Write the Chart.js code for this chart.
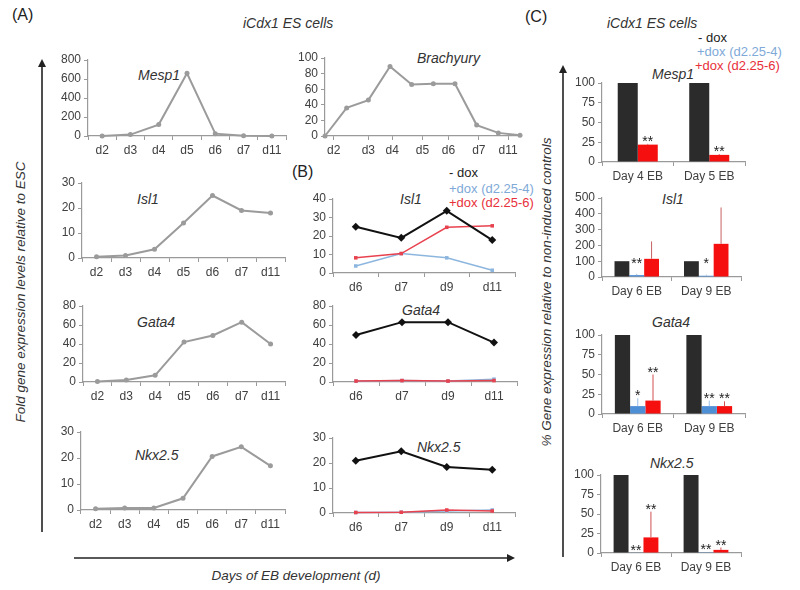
<!DOCTYPE html>
<html lang="en">
<head>
  <meta charset="UTF-8">
  <title>iCdx1 ES cells</title>
  <script src="https://cdn.jsdelivr.net/npm/chart.js"></script>
  <style>
    body { margin: 0; background: #fff; font-family: "Liberation Sans", Arial, sans-serif; }
    #fig { position: relative; width: 800px; height: 590px; overflow: hidden; }
    canvas { position: absolute; }
    .lab { position: absolute; white-space: nowrap; line-height: 1; color: #333; }
    .gene { font-style: italic; font-size: 14px; }
    .panel { font-size: 16px; color: #222; }
    .leg { font-size: 13px; }
    .rot { position: absolute; white-space: nowrap; font-style: italic; font-size: 13.5px; color: #333;
           transform: translate(-50%, -50%) rotate(-90deg); }
  </style>
</head>
<body>
<div id="fig">
  <svg width="800" height="590" style="position:absolute;left:0;top:0">
    <defs>
      <marker id="ah" markerWidth="8" markerHeight="8" refX="5" refY="4" orient="auto" markerUnits="userSpaceOnUse">
        <path d="M0,0 L8,4 L0,8 z" fill="#222"/>
      </marker>
    </defs>
    <line x1="42" y1="532" x2="42" y2="62" stroke="#222" stroke-width="1.6" marker-end="url(#ah)"/>
    <line x1="74" y1="558" x2="512" y2="558" stroke="#222" stroke-width="1.6" marker-end="url(#ah)"/>
    <line x1="563" y1="557" x2="563" y2="68" stroke="#222" stroke-width="1.6" marker-end="url(#ah)"/>
  </svg>

  <div class="lab panel" style="left:12px;top:7px">(A)</div>
  <div class="lab gene" style="left:243px;top:16px">iCdx1 ES cells</div>
  <div class="lab panel" style="left:525px;top:9px">(C)</div>
  <div class="lab panel" style="left:292px;top:164px">(B)</div>
  <div class="lab gene" style="left:607px;top:16px">iCdx1 ES cells</div>

  <div class="lab leg" style="left:449px;top:166px;color:#222">- dox</div>
  <div class="lab leg" style="left:449px;top:182px;color:#7ea9d8">+dox (d2.25-4)</div>
  <div class="lab leg" style="left:449px;top:196px;color:#e8303a">+dox (d2.25-6)</div>
  <div class="lab leg" style="left:698px;top:31px;color:#222">- dox</div>
  <div class="lab leg" style="left:697px;top:45px;color:#7ea9d8">+dox (d2.25-4)</div>
  <div class="lab leg" style="left:695px;top:59px;color:#e8303a">+dox (d2.25-6)</div>

  <div class="lab gene" style="left:138px;top:68px">Mesp1</div>
  <div class="lab gene" style="left:417px;top:51px">Brachyury</div>
  <div class="lab gene" style="left:137px;top:192px">Isl1</div>
  <div class="lab gene" style="left:137px;top:315px">Gata4</div>
  <div class="lab gene" style="left:135px;top:448px">Nkx2.5</div>
  <div class="lab gene" style="left:400px;top:192px">Isl1</div>
  <div class="lab gene" style="left:402px;top:303px">Gata4</div>
  <div class="lab gene" style="left:417px;top:440px">Nkx2.5</div>
  <div class="lab gene" style="left:652px;top:67px">Mesp1</div>
  <div class="lab gene" style="left:662px;top:192px">Isl1</div>
  <div class="lab gene" style="left:652px;top:315px">Gata4</div>
  <div class="lab gene" style="left:650px;top:456px">Nkx2.5</div>

  <div class="rot" style="left:20px;top:292px">Fold gene expression levels relative to ESC</div>
  <div class="rot" style="left:546px;top:292px">% Gene expression relative to non-induced controls</div>
  <div class="lab" style="left:296px;top:569px;transform:translateX(-50%);font-style:italic;font-size:13.5px">Days of EB development (d)</div>

  <canvas id="aMesp1"></canvas>
  <canvas id="aBrachy"></canvas>
  <canvas id="aIsl1"></canvas>
  <canvas id="aGata4"></canvas>
  <canvas id="aNkx"></canvas>
  <canvas id="bIsl1"></canvas>
  <canvas id="bGata4"></canvas>
  <canvas id="bNkx"></canvas>
  <canvas id="cMesp1"></canvas>
  <canvas id="cIsl1"></canvas>
  <canvas id="cGata4"></canvas>
  <canvas id="cNkx"></canvas>
</div>

<script>
  // (A) time course, fold change vs ESC
  const daysA = ['d2', 'd3', 'd4', 'd5', 'd6', 'd7', 'd11'];
  const mesp1A = [0, 15, 120, 660, 25, 3, 0];
  const isl1A = [0.5, 1, 3.5, 14, 25, 19, 18];
  const gata4A = [0.5, 2, 7, 42, 49, 63, 40];
  const nkxA = [0.5, 0.8, 0.8, 4.5, 20.6, 24.3, 17];

  // Brachyury has extra sampling points, labels sit between them
  const brachyA = [0, 36, 46, 89, 66, 67, 67, 14, 4, 1];
  const brachyDays = ['d2', 'd3', 'd4', 'd5', 'd6', 'd7', 'd11'];
  const brachyTickPos = [0.4, 2.0, 3.1, 4.5, 5.7, 7.1, 8.45];

  // (B) -dox vs +dox
  const daysB = ['d6', 'd7', 'd9', 'd11'];
  const isl1Ctrl = [25, 19, 33.6, 17.8];
  const isl1Dox4 = [3.8, 10.5, 8.2, 1.5];
  const isl1Dox6 = [8.2, 10.5, 24.7, 25.5];
  const gata4Ctrl = [49.5, 63, 63, 41.5];
  const gata4Dox4 = [1, 1.5, 1, 3];
  const gata4Dox6 = [1, 1.5, 1, 1.5];
  const nkxCtrl = [20.9, 24.7, 18.4, 17.3];
  const nkxDox4 = [0.2, 0.3, 0.8, 1.2];
  const nkxDox6 = [0.2, 0.3, 1.2, 0.8];

  // (C) % of non-induced controls
  const ebMesp = ['Day 4 EB', 'Day 5 EB'];
  const ebLater = ['Day 6 EB', 'Day 9 EB'];
  const mesp1Ctrl = [100, 100];
  const mesp1Dox6 = [22, 9];
  const mesp1Dox6Err = [23, 10];
  const mesp1Dox6Stars = ['**', '**'];

  const isl1CCtrl = [100, 100];
  const isl1CDox4 = [12, 8];
  const isl1CDox4Err = [20, 15];
  const isl1CDox4Stars = ['**', '*'];
  const isl1CDox4StarLevel = [70, 70];
  const isl1CDox6 = [115, 210];
  const isl1CDox6Err = [225, 440];

  const gata4CCtrl = [100, 100];
  const gata4CDox4 = [10, 10];
  const gata4CDox4Err = [20, 17];
  const gata4CDox4Stars = ['*', '**'];
  const gata4CDox6 = [17, 10];
  const gata4CDox6Err = [50, 16];
  const gata4CDox6Stars = ['**', '**'];

  const nkxCCtrl = [100, 100];
  const nkxCDox4 = [0.5, 1];
  const nkxCDox4Stars = ['**', '**'];
  const nkxCDox6 = [20, 4];
  const nkxCDox6Err = [53, 7];
  const nkxCDox6Stars = ['**', '**'];

  const AXIS = '#9a9a9a';
  const TICK = '#404040';
  const GREY = '#9b9b9b';
  const BLACK = '#111';
  const RED = '#e8424f';
  const BLUE = '#8db6df';
  const BAR_BLACK = '#2b2b2b';
  const BAR_BLUE = '#4f8fd6';
  const BAR_RED = '#f50f0f';

  Chart.defaults.font.family = "'Liberation Sans', Arial, sans-serif";

  const YW = 40, PT = 9, PR = 4, XH = 24;

  // put canvas so the plot area lands on the given axis box
  function place(id, b) {
    const c = document.getElementById(id);
    const left = b.x0 - YW, top = b.yTop - PT;
    c.style.left = left + 'px';
    c.style.top = top + 'px';
    c.width = b.x1 - left + PR;
    c.height = b.y0 - top + XH;
    return c;
  }

  function xCat() {
    return {
      type: 'category', offset: true,
      grid: { offset: true, drawOnChartArea: false, tickLength: 4, color: AXIS },
      border: { color: AXIS, width: 1.2 },
      ticks: { color: TICK, font: { size: 12 }, padding: 3, maxRotation: 0, autoSkip: false },
      afterFit(s) { s.height = XH; }
    };
  }

  function yLin(max, step) {
    return {
      min: 0, max: max,
      grid: { drawOnChartArea: false, tickLength: 4, color: AXIS },
      border: { color: AXIS, width: 1.2 },
      // every step gets a label, like the original
      afterBuildTicks(s) {
        const t = [];
        for (let v = 0; v <= max; v += step) t.push({ value: v });
        s.ticks = t;
      },
      ticks: { stepSize: step, maxTicksLimit: 20, color: TICK, font: { size: 12, lineHeight: 1 },
               padding: 3, autoSkip: false },
      afterFit(s) { s.width = YW; }
    };
  }

  function baseOpts(x, y) {
    return {
      responsive: false, animation: false,
      layout: { padding: { top: PT, right: PR, left: 0, bottom: 0 } },
      plugins: { legend: { display: false }, tooltip: { enabled: false } },
      scales: { x: x, y: y }
    };
  }

  function greyLine(data) {
    return { data: data, borderColor: GREY, backgroundColor: GREY, borderWidth: 2,
             pointRadius: 2.5, pointBorderWidth: 0, clip: false };
  }

  const charts = [];

  function lineA(id, box, data, max, step) {
    charts.push(new Chart(place(id, box), {
      type: 'line',
      data: { labels: daysA, datasets: [greyLine(data)] },
      options: baseOpts(xCat(), yLin(max, step))
    }));
  }

  function lineB(id, box, ctrl, dox4, dox6, max, step) {
    charts.push(new Chart(place(id, box), {
      type: 'line',
      data: {
        labels: daysB,
        datasets: [
          { data: ctrl, borderColor: BLACK, backgroundColor: BLACK, borderWidth: 2,
            pointStyle: 'rectRot', pointRadius: 4, pointBorderWidth: 0, clip: false },
          { data: dox6, borderColor: RED, backgroundColor: RED, borderWidth: 1.5,
            pointStyle: 'rect', pointRadius: 2.5, pointBorderWidth: 0, clip: false },
          { data: dox4, borderColor: BLUE, backgroundColor: BLUE, borderWidth: 1.5,
            pointStyle: 'rect', pointRadius: 2.5, pointBorderWidth: 0, clip: false }
        ]
      },
      options: baseOpts(xCat(), yLin(max, step))
    }));
  }

  // error whiskers and significance stars on bars
  const barMarks = {
    id: 'barMarks',
    afterDatasetsDraw(chart) {
      const ctx = chart.ctx, ys = chart.scales.y;
      chart.data.datasets.forEach((ds, i) => {
        const meta = chart.getDatasetMeta(i);
        meta.data.forEach((bar, j) => {
          let top = bar.y;
          if (ds.err && ds.err[j] != null) {
            const ey = ys.getPixelForValue(ds.err[j]);
            ctx.save();
            ctx.strokeStyle = ds.errColor;
            ctx.lineWidth = 1;
            ctx.beginPath();
            ctx.moveTo(bar.x, bar.y);
            ctx.lineTo(bar.x, ey);
            ctx.stroke();
            ctx.restore();
            top = Math.min(top, ey);
          }
          if (ds.starLevel) top = ys.getPixelForValue(ds.starLevel[j]);
          if (ds.stars && ds.stars[j]) {
            ctx.save();
            ctx.fillStyle = '#222';
            ctx.font = "14px 'Liberation Sans', Arial, sans-serif";
            ctx.textAlign = 'center';
            ctx.textBaseline = 'alphabetic';
            ctx.fillText(ds.stars[j], bar.x, top + 2);
            ctx.restore();
          }
        });
      });
    }
  };

  function barC(id, box, labels, datasets, max, step, pct) {
    charts.push(new Chart(place(id, box), {
      type: 'bar',
      data: { labels: labels, datasets: datasets },
      options: Object.assign(baseOpts(xCat(), yLin(max, step)), {
        datasets: { bar: { barPercentage: 1, categoryPercentage: pct } }
      }),
      plugins: [barMarks]
    }));
  }

  function ctrlBars(data) {
    return { data: data, backgroundColor: BAR_BLACK };
  }
  function doxBars(data, color, err, errColor, stars, starLevel) {
    return { data: data, backgroundColor: color, err: err, errColor: errColor,
             stars: stars, starLevel: starLevel };
  }

  // panel A
  lineA('aMesp1', { x0: 88, x1: 286, yTop: 60, y0: 136 }, mesp1A, 800, 200);
  lineA('aIsl1', { x0: 82, x1: 285, yTop: 183, y0: 258 }, isl1A, 30, 10);
  lineA('aGata4', { x0: 83, x1: 285, yTop: 306, y0: 382 }, gata4A, 80, 20);
  lineA('aNkx', { x0: 81, x1: 285, yTop: 432, y0: 510 }, nkxA, 30, 10);

  const bx = {
    type: 'linear', min: 0, max: brachyA.length - 1,
    grid: { drawOnChartArea: false, tickLength: 4, color: AXIS },
    border: { color: AXIS, width: 1.2 },
    afterBuildTicks(s) { s.ticks = brachyTickPos.map(v => ({ value: v })); },
    ticks: { color: TICK, font: { size: 12 }, padding: 3, maxRotation: 0, autoSkip: false,
             callback: (v, i) => brachyDays[i] },
    afterFit(s) { s.height = XH; }
  };
  charts.push(new Chart(place('aBrachy', { x0: 325, x1: 520, yTop: 58, y0: 136 }), {
    type: 'line',
    data: { datasets: [greyLine(brachyA.map((v, i) => ({ x: i, y: v })))] },
    options: baseOpts(bx, yLin(100, 20))
  }));

  // panel B
  lineB('bIsl1', { x0: 333, x1: 515, yTop: 199, y0: 273 }, isl1Ctrl, isl1Dox4, isl1Dox6, 40, 10);
  lineB('bGata4', { x0: 333, x1: 517, yTop: 306, y0: 382 }, gata4Ctrl, gata4Dox4, gata4Dox6, 80, 20);
  lineB('bNkx', { x0: 333, x1: 515, yTop: 438, y0: 513 }, nkxCtrl, nkxDox4, nkxDox6, 30, 10);

  // panel C
  barC('cMesp1', { x0: 602, x1: 745, yTop: 83, y0: 162 }, ebMesp, [
    ctrlBars(mesp1Ctrl),
    doxBars(mesp1Dox6, BAR_RED, mesp1Dox6Err, '#d04040', mesp1Dox6Stars)
  ], 100, 25, 0.56);

  barC('cIsl1', { x0: 602, x1: 741, yTop: 198, y0: 277 }, ebLater, [
    ctrlBars(isl1CCtrl),
    doxBars(isl1CDox4, BAR_BLUE, isl1CDox4Err, '#9cc0e6', isl1CDox4Stars, isl1CDox4StarLevel),
    doxBars(isl1CDox6, BAR_RED, isl1CDox6Err, '#c86060')
  ], 500, 100, 0.64);

  barC('cGata4', { x0: 602, x1: 745, yTop: 335, y0: 414 }, ebLater, [
    ctrlBars(gata4CCtrl),
    doxBars(gata4CDox4, BAR_BLUE, gata4CDox4Err, '#9cc0e6', gata4CDox4Stars),
    doxBars(gata4CDox6, BAR_RED, gata4CDox6Err, '#d05050', gata4CDox6Stars)
  ], 100, 25, 0.64);

  barC('cNkx', { x0: 601, x1: 741, yTop: 475, y0: 553 }, ebLater, [
    ctrlBars(nkxCCtrl),
    doxBars(nkxCDox4, BAR_BLUE, null, null, nkxCDox4Stars),
    doxBars(nkxCDox6, BAR_RED, nkxCDox6Err, '#d05050', nkxCDox6Stars)
  ], 100, 25, 0.64);

  // second pass so every axis is laid out with its final tick list
  charts.forEach(c => c.update('none'));
</script>
</body>
</html>
